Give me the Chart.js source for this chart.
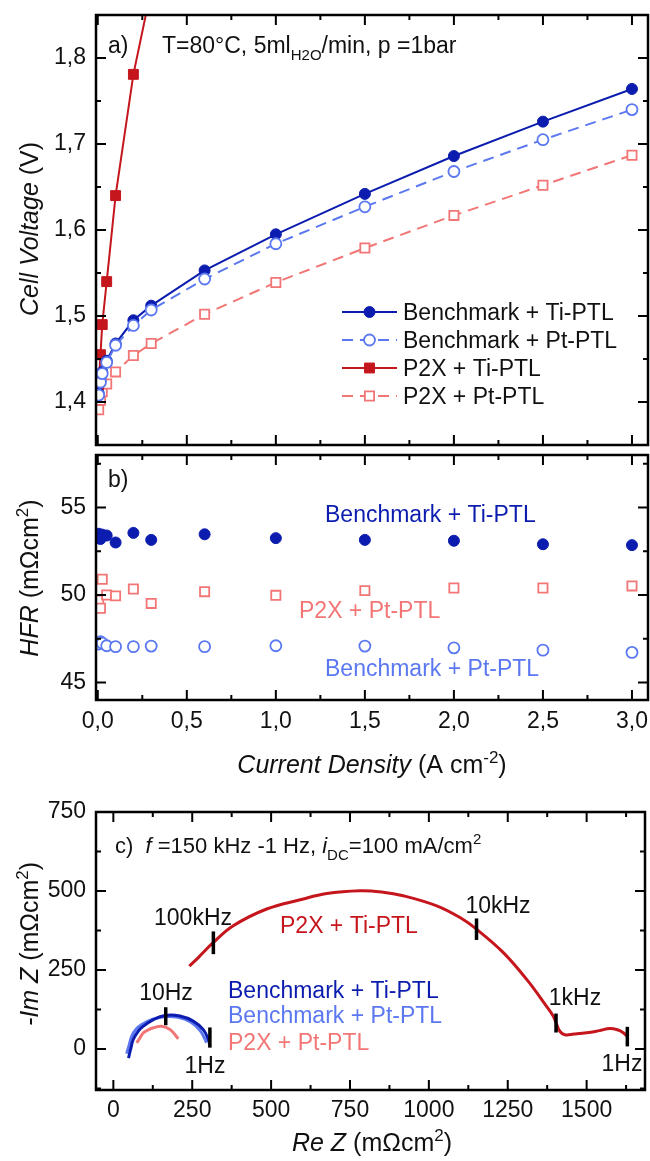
<!DOCTYPE html>
<html>
<head>
<meta charset="utf-8">
<script src="https://cdn.jsdelivr.net/npm/chart.js@4.4.1/dist/chart.umd.min.js"></script>
<style>
  html, body { margin: 0; padding: 0; background: #fff; }
  #wrap { position: relative; width: 650px; height: 1161px; overflow: hidden; }
  canvas { position: absolute; left: 0; }
  #chartA { top: 0; }
  #chartB { top: 450px; }
  #chartC { top: 790px; }
</style>
</head>
<body>
<div id="wrap">
  <canvas id="chartA" width="650" height="450"></canvas>
  <canvas id="chartB" width="650" height="340"></canvas>
  <canvas id="chartC" width="650" height="371"></canvas>
</div>
<script>
// a) polarisation curves
const currentDensity = [0.005, 0.015, 0.025, 0.05, 0.1, 0.2, 0.3, 0.6, 1.0, 1.5, 2.0, 2.5, 3.0];
const voltBenchTi = [1.410, 1.425, 1.435, 1.448, 1.468, 1.495, 1.512, 1.553, 1.595, 1.642, 1.686, 1.726, 1.764];
const voltBenchPt = [1.408, 1.423, 1.433, 1.446, 1.466, 1.489, 1.507, 1.543, 1.584, 1.627, 1.668, 1.705, 1.740];
const voltP2xPt = [1.391, 1.402, 1.412, 1.421, 1.435, 1.454, 1.468, 1.502, 1.539, 1.579, 1.617, 1.652, 1.687];
const currentP2xTi = [0.005, 0.015, 0.025, 0.05, 0.1, 0.2, 0.3];
const voltP2xTi = [1.420, 1.455, 1.490, 1.540, 1.640, 1.781, 1.880];

// b) high frequency resistance
const hfrBenchTi = [53.5, 53.2, 53.45, 53.4, 53.0, 53.55, 53.15, 53.47, 53.25, 53.15, 53.1, 52.9, 52.85];
const hfrP2xPt = [49.7, 49.24, 50.9, 50.0, 49.95, 50.34, 49.52, 50.19, 49.98, 50.25, 50.4, 50.4, 50.52];
const hfrBenchPt = [47.2, 47.33, 47.25, 47.1, 47.05, 47.05, 47.08, 47.05, 47.1, 47.08, 46.98, 46.85, 46.72];

// c) impedance spectra (Nyquist)
const reP2xTi = [241, 270, 317, 380, 486, 592, 676, 782, 850, 919, 1025, 1100, 1151, 1236, 1310, 1373, 1394, 1403, 1415, 1431, 1460, 1500, 1540, 1574, 1600, 1615, 1629];
const imP2xTi = [262, 290, 337, 390, 443, 472, 492, 501, 497, 485, 453, 415, 379, 305, 220, 135, 104, 83, 56, 45, 47, 51, 58, 65, 60, 52, 40];
const reBenchTi = [48, 55, 63, 78, 95, 127, 164, 211, 253, 285, 301, 306];
const imBenchTi = [-29, 0, 30, 55, 72, 93, 106, 104, 88, 61, 30, 8];
const reBenchPt = [42, 50, 58, 72, 90, 125, 162, 205, 245, 275, 290, 295];
const imBenchPt = [-15, 12, 40, 62, 77, 94, 102, 100, 85, 58, 32, 20];
const reP2xPt = [74, 85, 95, 110, 127, 153, 180, 206];
const imP2xPt = [19, 36, 51, 60, 67, 72, 61, 32];
const markerRe = [317, 1151, 1403, 1629, 166, 306];
const markerImLow = [300, 345, 52, 8, 75, 4];
const markerImHigh = [372, 413, 112, 70, 132, 68];

// tick labels
const currentTicks = [0, 0.5, 1.0, 1.5, 2.0, 2.5, 3.0];
const voltTicks = [1.4, 1.5, 1.6, 1.7, 1.8];
const hfrTicks = [45, 50, 55];
const reTicks = [0, 250, 500, 750, 1000, 1250, 1500];
const imTicks = [0, 250, 500, 750];

const FONT = "'Liberation Sans', Arial, Helvetica, sans-serif";
const DARK_BLUE = '#0b1cae';
const LIGHT_BLUE = '#5b78f0';
const RED = '#c5161d';
const LIGHT_RED = '#f27676';

Chart.defaults.font.family = FONT;
Chart.defaults.font.size = 23;
Chart.defaults.color = '#111';
Chart.defaults.animation = false;

const xy = (xs, ys) => xs.map((x, i) => ({ x: x, y: ys[i] }));
const comma = v => v.toFixed(1).replace('.', ',');

// text with italic / sub / sup parts
function drawRich(ctx, it) {
  const base = it.size || 23;
  const small = Math.round(base * 0.66);
  const fontFor = p => (p.italic ? 'italic ' : '') + ((p.sub || p.sup) ? small : base) + 'px ' + FONT;
  const widths = it.parts.map(p => { ctx.font = fontFor(p); return ctx.measureText(p.t).width; });
  const total = widths.reduce((a, b) => a + b, 0);
  ctx.save();
  ctx.translate(it.x, it.y);
  if (it.rotate) ctx.rotate(-Math.PI / 2);
  ctx.textAlign = 'left';
  ctx.textBaseline = 'alphabetic';
  let x = it.align === 'center' ? -total / 2 : 0;
  it.parts.forEach((p, i) => {
    ctx.font = fontFor(p);
    ctx.fillStyle = p.color || it.color || '#111';
    const dy = p.sub ? base * 0.3 : (p.sup ? -base * 0.42 : 0);
    ctx.fillText(p.t, x, dy);
    x += widths[i];
  });
  ctx.restore();
}

function makeNotes(items) {
  return { id: 'notes', afterDraw(chart) { items.forEach(it => drawRich(chart.ctx, it)); } };
}

// frame with inward ticks on all four sides
function makeFrame(xMinor, yMinor) {
  return {
    id: 'frame',
    afterDatasetsDraw(chart) {
      const { ctx, chartArea: a } = chart;
      const xs = chart.scales.x, ys = chart.scales.y;
      ctx.save();
      ctx.strokeStyle = '#000';
      ctx.lineWidth = 2;
      ctx.beginPath();
      const mark = (scale, p, len) => {
        if (scale.isHorizontal()) {
          ctx.moveTo(p, a.bottom); ctx.lineTo(p, a.bottom - len);
          ctx.moveTo(p, a.top); ctx.lineTo(p, a.top + len);
        } else {
          ctx.moveTo(a.left, p); ctx.lineTo(a.left + len, p);
          ctx.moveTo(a.right, p); ctx.lineTo(a.right - len, p);
        }
      };
      [[xs, xMinor], [ys, yMinor]].forEach(([s, step]) => {
        const i0 = Math.ceil(s.min / step - 1e-6), i1 = Math.floor(s.max / step + 1e-6);
        for (let i = i0; i <= i1; i++) mark(s, s.getPixelForValue(i * step), 5);
        s.ticks.forEach(t => mark(s, s.getPixelForValue(t.value), 10));
      });
      ctx.stroke();
      ctx.lineWidth = 2.5;
      ctx.strokeRect(a.left, a.top, a.right - a.left, a.bottom - a.top);
      ctx.restore();
    }
  };
}

// legend for panel a: line + marker + label
const seriesKey = {
  id: 'seriesKey',
  afterDraw(chart) {
    const ctx = chart.ctx;
    chart.data.datasets.forEach((ds, i) => {
      const y = 312 + i * 28;
      ctx.save();
      ctx.strokeStyle = ds.borderColor;
      ctx.lineWidth = ds.borderWidth;
      ctx.setLineDash(ds.borderDash || []);
      ctx.beginPath(); ctx.moveTo(342, y); ctx.lineTo(397, y); ctx.stroke();
      ctx.setLineDash([]);
      ctx.fillStyle = ds.pointBackgroundColor;
      ctx.strokeStyle = ds.pointBorderColor;
      ctx.lineWidth = ds.pointBorderWidth;
      Chart.helpers.drawPoint(ctx, { pointStyle: ds.pointStyle, radius: ds.pointRadius, borderWidth: ds.pointBorderWidth, rotation: 0 }, 369.5, y);
      ctx.font = '23px ' + FONT;
      ctx.fillStyle = '#111';
      ctx.textBaseline = 'alphabetic';
      ctx.fillText(ds.label, 403, y + 8);
      ctx.restore();
    });
  }
};

function linScale(min, max, ticks, fmt, show, pad, size) {
  return {
    type: 'linear', min: min, max: max,
    grid: { display: false, drawTicks: false },
    border: { display: false },
    ticks: { display: show, padding: pad, callback: fmt, autoSkip: false, maxRotation: 0 },
    afterBuildTicks: s => { s.ticks = ticks.map(v => ({ value: v })); },
    afterFit: s => {
      if (s.isHorizontal()) s.height = size; else s.width = size;
      s.paddingTop = 0; s.paddingBottom = 0; s.paddingLeft = 0; s.paddingRight = 0;
    }
  };
}

const baseOpts = {
  responsive: false,
  plugins: { legend: { display: false }, tooltip: { enabled: false } }
};

// panel a
new Chart(document.getElementById('chartA'), {
  type: 'scatter',
  data: {
    datasets: [
      { label: 'Benchmark + Ti-PTL', data: xy(currentDensity, voltBenchTi), showLine: true, order: 2,
        borderColor: DARK_BLUE, borderWidth: 2, pointStyle: 'circle', pointRadius: 5.5,
        pointBackgroundColor: DARK_BLUE, pointBorderColor: DARK_BLUE, pointBorderWidth: 1 },
      { label: 'Benchmark + Pt-PTL', data: xy(currentDensity, voltBenchPt), showLine: true, order: 1,
        borderColor: LIGHT_BLUE, borderWidth: 2, borderDash: [11, 7], pointStyle: 'circle', pointRadius: 5.5,
        pointBackgroundColor: '#fff', pointBorderColor: LIGHT_BLUE, pointBorderWidth: 1.8 },
      { label: 'P2X + Ti-PTL', data: xy(currentP2xTi, voltP2xTi), showLine: true, order: 3,
        borderColor: RED, borderWidth: 2, pointStyle: 'rect', pointRadius: 7,
        pointBackgroundColor: RED, pointBorderColor: RED, pointBorderWidth: 1 },
      { label: 'P2X + Pt-PTL', data: xy(currentDensity, voltP2xPt), showLine: true, order: 4,
        borderColor: LIGHT_RED, borderWidth: 2, borderDash: [11, 7], pointStyle: 'rect', pointRadius: 6.5,
        pointBackgroundColor: '#fff', pointBorderColor: LIGHT_RED, pointBorderWidth: 1.8 }
    ]
  },
  options: Object.assign({}, baseOpts, {
    layout: { autoPadding: false, padding: { top: 15, right: 2, left: 0, bottom: 0 } },
    scales: {
      x: linScale(-0.01, 3.09, currentTicks, comma, false, 0, 5),
      y: linScale(1.35, 1.85, voltTicks, comma, true, 10, 96)
    }
  }),
  plugins: [makeFrame(0.25, 0.05), seriesKey, makeNotes([
    { x: 108, y: 53, parts: [{ t: 'a)' }] },
    { x: 162, y: 53, parts: [{ t: 'T=80°C, 5ml' }, { t: 'H2O', sub: true }, { t: '/min, p =1bar' }] },
    { x: 38, y: 229, rotate: true, align: 'center', size: 25,
      parts: [{ t: 'Cell Voltage', italic: true }, { t: ' (V)' }] }
  ])]
});

// panel b
new Chart(document.getElementById('chartB'), {
  type: 'scatter',
  data: {
    datasets: [
      { label: 'Benchmark + Pt-PTL', data: xy(currentDensity, hfrBenchPt), pointStyle: 'circle', pointRadius: 5.5,
        pointBackgroundColor: '#fff', pointBorderColor: LIGHT_BLUE, pointBorderWidth: 1.8 },
      { label: 'Benchmark + Ti-PTL', data: xy(currentDensity, hfrBenchTi), pointStyle: 'circle', pointRadius: 5.5,
        pointBackgroundColor: DARK_BLUE, pointBorderColor: DARK_BLUE, pointBorderWidth: 1 },
      { label: 'P2X + Pt-PTL', data: xy(currentDensity, hfrP2xPt), pointStyle: 'rect', pointRadius: 6.5,
        pointBackgroundColor: '#fff', pointBorderColor: LIGHT_RED, pointBorderWidth: 1.8 }
    ]
  },
  options: Object.assign({}, baseOpts, {
    layout: { autoPadding: false, padding: { top: 5, right: 2, left: 0, bottom: 0 } },
    scales: {
      x: linScale(-0.01, 3.09, currentTicks, comma, true, 8, 90),
      y: linScale(44, 58, hfrTicks, v => v, true, 10, 96)
    }
  }),
  plugins: [makeFrame(0.25, 2.5), makeNotes([
    { x: 108, y: 37, parts: [{ t: 'b)' }] },
    { x: 325, y: 72, color: DARK_BLUE, parts: [{ t: 'Benchmark + Ti-PTL' }] },
    { x: 299, y: 168, color: LIGHT_RED, parts: [{ t: 'P2X + Pt-PTL' }] },
    { x: 325, y: 226, color: LIGHT_BLUE, parts: [{ t: 'Benchmark + Pt-PTL' }] },
    { x: 38, y: 128, rotate: true, align: 'center', size: 25,
      parts: [{ t: 'HFR', italic: true }, { t: ' (mΩcm' }, { t: '2', sup: true }, { t: ')' }] },
    { x: 372, y: 323, align: 'center', size: 25,
      parts: [{ t: 'Current Density', italic: true }, { t: ' (A cm' }, { t: '-2', sup: true }, { t: ')' }] }
  ])]
});

// panel c
const markerSets = markerRe.map((re, i) => ({
  data: [{ x: re, y: markerImLow[i] }, { x: re, y: markerImHigh[i] }],
  showLine: true, borderColor: '#000', borderWidth: 3.5, pointRadius: 0, borderCapStyle: 'butt', order: 0
}));

new Chart(document.getElementById('chartC'), {
  type: 'scatter',
  data: {
    datasets: [
      { label: 'P2X + Ti-PTL', data: xy(reP2xTi, imP2xTi), showLine: true, tension: 0.4,
        borderColor: RED, borderWidth: 3, pointRadius: 0, order: 1 },
      { label: 'Benchmark + Ti-PTL', data: xy(reBenchTi, imBenchTi), showLine: true, tension: 0.4,
        borderColor: DARK_BLUE, borderWidth: 3, pointRadius: 0, order: 2 },
      { label: 'Benchmark + Pt-PTL', data: xy(reBenchPt, imBenchPt), showLine: true, tension: 0.4,
        borderColor: LIGHT_BLUE, borderWidth: 3, pointRadius: 0, order: 3 },
      { label: 'P2X + Pt-PTL', data: xy(reP2xPt, imP2xPt), showLine: true, tension: 0.4,
        borderColor: LIGHT_RED, borderWidth: 3, pointRadius: 0, order: 4 }
    ].concat(markerSets)
  },
  options: Object.assign({}, baseOpts, {
    layout: { autoPadding: false, padding: { top: 22, right: 5, left: 0, bottom: 0 } },
    scales: {
      x: linScale(-55, 1685, reTicks, v => v, true, 7, 71),
      y: linScale(-130, 750, imTicks, v => v, true, 10, 96)
    }
  }),
  plugins: [makeFrame(125, 125), makeNotes([
    { x: 115, y: 63, size: 22, parts: [{ t: 'c)  ' }, { t: 'f', italic: true }, { t: ' =150 kHz -1 Hz, ' },
      { t: 'i', italic: true }, { t: 'DC', sub: true }, { t: '=100 mA/cm' }, { t: '2', sup: true }] },
    { x: 193, y: 135, align: 'center', parts: [{ t: '100kHz' }] },
    { x: 280, y: 143, color: RED, parts: [{ t: 'P2X + Ti-PTL' }] },
    { x: 498, y: 123, align: 'center', parts: [{ t: '10kHz' }] },
    { x: 575, y: 215, align: 'center', parts: [{ t: '1kHz' }] },
    { x: 622, y: 281, align: 'center', parts: [{ t: '1Hz' }] },
    { x: 166, y: 210, align: 'center', parts: [{ t: '10Hz' }] },
    { x: 205, y: 283, align: 'center', parts: [{ t: '1Hz' }] },
    { x: 228, y: 208, color: DARK_BLUE, parts: [{ t: 'Benchmark + Ti-PTL' }] },
    { x: 228, y: 233, color: LIGHT_BLUE, parts: [{ t: 'Benchmark + Pt-PTL' }] },
    { x: 228, y: 260, color: LIGHT_RED, parts: [{ t: 'P2X + Pt-PTL' }] },
    { x: 38, y: 154, rotate: true, align: 'center', size: 25,
      parts: [{ t: '-Im Z', italic: true }, { t: ' (mΩcm' }, { t: '2', sup: true }, { t: ')' }] },
    { x: 372, y: 361, align: 'center', size: 25,
      parts: [{ t: 'Re Z', italic: true }, { t: ' (mΩcm' }, { t: '2', sup: true }, { t: ')' }] }
  ])]
});
</script>
</body>
</html>
